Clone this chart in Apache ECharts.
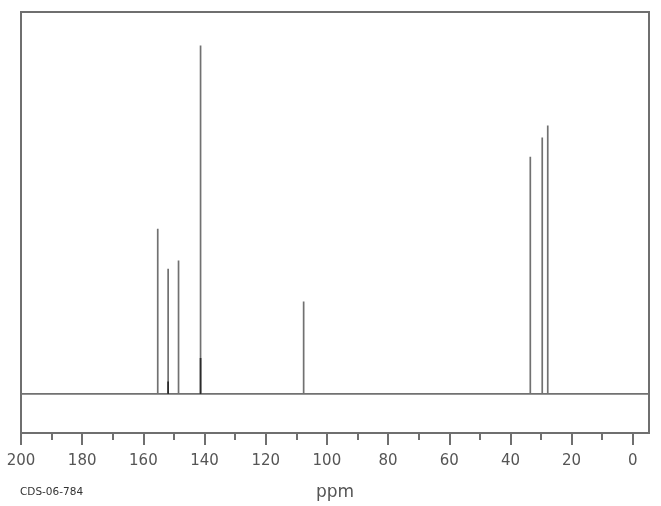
<!DOCTYPE html>
<html>
<head>
<meta charset="utf-8">
<script src="https://cdn.jsdelivr.net/npm/echarts@6/dist/echarts.min.js"></script>
<style>
html,body{margin:0;padding:0;background:#fff;}
#chart{width:661px;height:506px;}
</style>
</head>
<body>
<div id="chart"></div>
<script>
// Peak positions (ppm) and relative intensities
const peakPpm = [155.3, 151.9, 148.5, 141.3, 107.6, 33.5, 29.6, 27.8];
const peakInt = [47.4, 35.9, 38.3, 100, 26.5, 68.1, 73.6, 77.0];
// Darker overlapping inner components
const innerPpm = [151.9, 141.3];
const innerInt = [3.6, 10.3];
// Axis ticks
const majorTicks = [0, 20, 40, 60, 80, 100, 120, 140, 160, 180, 200];
const minorTicks = [10, 30, 50, 70, 90, 110, 130, 150, 170, 190];
const xMin = -5.3, xMax = 200;

const spectrum = [[xMax, 0]];
peakPpm.map((p, i) => [p, peakInt[i]])
  .sort((a, b) => b[0] - a[0])
  .forEach(([p, h]) => { spectrum.push([p, 0], [p, h], [p, 0]); });
spectrum.push([xMin, 0]);

const lineColor = '#717171';
const series = [{
  type: 'line', data: spectrum, symbol: 'none', xAxisIndex: 0,
  lineStyle: { color: lineColor, width: 1.7 }, silent: true, animation: false
}];
innerPpm.forEach((p, i) => {
  series.push({
    type: 'line', data: [[p, 0], [p, innerInt[i]]], symbol: 'none', xAxisIndex: 0,
    lineStyle: { color: '#2a2a2a', width: 1.7 }, silent: true, animation: false
  });
});

const chart = echarts.init(document.getElementById('chart'));
chart.setOption({
  animation: false,
  backgroundColor: '#fff',
  grid: { left: 21, right: 12, top: 12, bottom: 73, outerBoundsMode: 'none', containLabel: false,
          show: true, borderColor: '#6f6f6f', borderWidth: 2 },
  xAxis: [{
    type: 'value', min: xMin, max: xMax, inverse: true, position: 'bottom',
    name: 'ppm', nameLocation: 'middle', nameGap: 51,
    nameTextStyle: { fontFamily: 'DejaVu Sans', fontSize: 17, color: '#555' },
    axisLine: { show: true, onZero: false, lineStyle: { color: '#6f6f6f', width: 2 } },
    axisTick: { show: true, customValues: majorTicks, length: 12, lineStyle: { color: '#6f6f6f', width: 2 } },
    axisLabel: { customValues: majorTicks, margin: 21, fontFamily: 'DejaVu Sans', fontSize: 15, color: '#555' },
    splitLine: { show: false }
  }, {
    type: 'value', min: xMin, max: xMax, inverse: true, position: 'bottom', offset: 0,
    axisLine: { show: false, onZero: false },
    axisTick: { show: true, customValues: minorTicks, length: 7, lineStyle: { color: '#6f6f6f', width: 2 } },
    axisLabel: { show: false },
    splitLine: { show: false }
  }],
  yAxis: { type: 'value', min: -11.2, max: 109.6, show: false, splitLine: { show: false } },
  graphic: [{
    type: 'text', left: 20, top: 487,
    style: { text: 'CDS-06-784', fontFamily: 'DejaVu Sans', fontSize: 10.5, fill: '#333' }
  }],
  series: series
});
</script>
</body>
</html>
